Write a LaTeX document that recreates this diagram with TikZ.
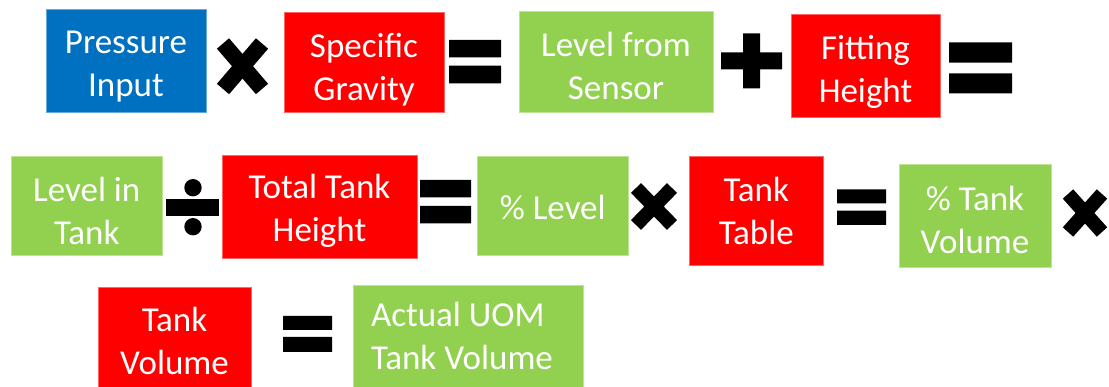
\documentclass[tikz,border=0pt]{standalone}
\usepackage{fontspec}
\setmainfont{Carlito}
\definecolor{cblue}{RGB}{0,112,192}
\definecolor{cred}{RGB}{255,0,0}
\definecolor{cgreen}{RGB}{146,208,80}
\begin{document}
\begin{tikzpicture}[x=1pt,y=-1pt,
  box/.style={rectangle,inner sep=0pt,outer sep=0pt,line width=0.8pt},
  bluebox/.style={box,fill=cblue,draw=cblue!60!white},
  redbox/.style={box,fill=cred,draw=cred!60!white},
  greenbox/.style={box,fill=cgreen,draw=cgreen!60!white},
  lbl/.style={inner sep=0pt,outer sep=0pt,text=white,align=center,anchor=base,
    font=\fontsize{35}{43}\selectfont},
  lbll/.style={lbl,align=left,anchor=base west},
  opfill/.style={fill=black},
  xop/.style={draw=black,line cap=butt}]
\clip (0,0) rectangle (1109,387);
\fill[white] (0,0) rectangle (1109,387);
% ---- row 1
\node[bluebox,minimum width=160pt,minimum height=103.4pt] (pin) at (126,61) {};
\node[lbl] (pint) at (126,96.7) {Pressure\\Input};
\draw[xop,line width=16pt] (223,43.5) -- (262,89) (262,43.5) -- (223,89);
\node[redbox,minimum width=160pt,minimum height=100pt] (sg) at (364,62.7) {};
\node[lbl] (sgt) at (364,101) {Specific\\Gravity};
\fill[opfill] (449,40) rectangle (501,57.3) (449,65.7) rectangle (501,83.3);
\node[greenbox,minimum width=194pt,minimum height=101.7pt] (lfs) at (616,61.8) {};
\node[lbl] (lfst) at (616,99.3) {Level from\\Sensor};
\fill[opfill] (721,52.3) rectangle (782,69.3) (743,33.3) rectangle (760,88.3);
\node[redbox,minimum width=149pt,minimum height=103.3pt] (fh) at (865.5,65.7) {};
\node[lbl] (fht) at (865.5,102.3) {Fitting\\Height};
\fill[opfill] (949,42.3) rectangle (1012,62.7) (949,73.3) rectangle (1012,93.3);
% ---- row 2
\node[greenbox,minimum width=151.5pt,minimum height=99pt] (lit) at (86.75,206.2) {};
\node[lbl] (litt) at (86.75,245) {Level in\\Tank};
\fill[opfill] (166,199) rectangle (219,216);
\fill[opfill] (193,187.7) circle[radius=8.7pt] (193,226.7) circle[radius=8.7pt];
\node[redbox,minimum width=195pt,minimum height=103pt] (tth) at (319.5,206.8) {};
\node[lbl] (ttht) at (319.5,241.7) {Total Tank\\Height};
\fill[opfill] (420,180) rectangle (471,197.3) (420,206) rectangle (471,223.3);
\node[greenbox,minimum width=151.5pt,minimum height=99pt] (pl) at (552.75,206.2) {};
\node[lbl] (plt) at (552.75,220) {\% Level};
\draw[xop,line width=14pt] (636,188) -- (672,225) (672,188) -- (636,225);
\node[redbox,minimum width=133.5pt,minimum height=108.3pt] (tt) at (756.25,210.85) {};
\node[lbl] (ttt) at (756.25,244.3) {Tank\\Table};
\fill[opfill] (837,189.3) rectangle (886,203.3) (837,210.7) rectangle (886,225);
\node[greenbox,minimum width=152pt,minimum height=103.4pt] (ptv) at (975,216) {};
\node[lbl] (ptvt) at (975,253.3) {\% Tank\\Volume};
\draw[xop,line width=14pt] (1068,194) -- (1102,232) (1102,194) -- (1068,232);
% ---- row 3
\node[redbox,minimum width=153pt,minimum height=110pt] (tv) at (174.5,342) {};
\node[lbl] (tvt) at (174.5,374) {Tank\\Volume};
\fill[opfill] (283,316) rectangle (332,330) (283,337) rectangle (332,352);
\node[greenbox,minimum width=230pt,minimum height=112pt] (atv) at (468,341) {};
\node[lbll] (atvt) at (371,370) {Actual UOM\\Tank Volume};
\end{tikzpicture}
\end{document}
